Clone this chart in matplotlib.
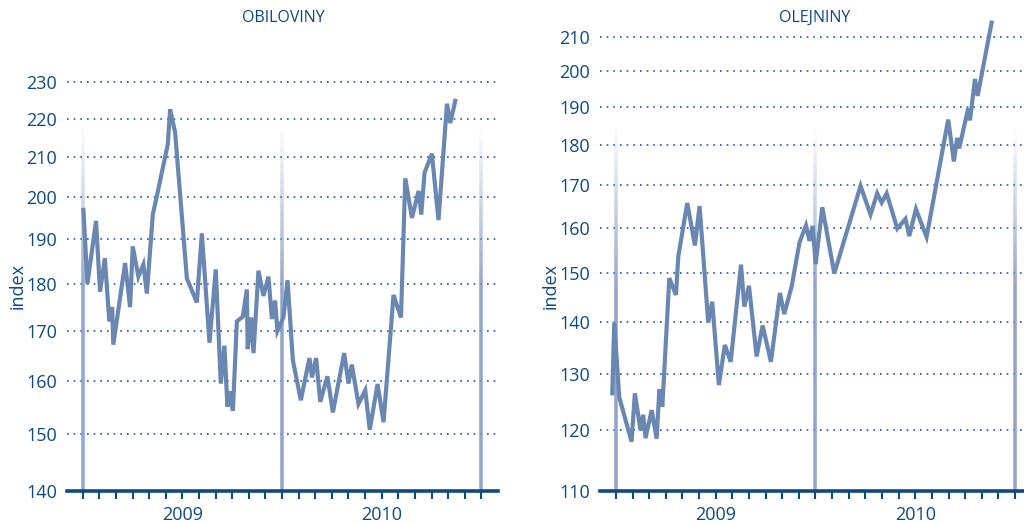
import numpy as np
import matplotlib
matplotlib.use('Agg')
import matplotlib.pyplot as plt
from matplotlib.collections import LineCollection
from matplotlib.ticker import FixedLocator, NullLocator, NullFormatter

# months since January 2009 (fractional, weekly-ish observations)
obil_months = [0.04, 0.28, 0.80, 1.04, 1.33, 1.60, 1.77, 1.84, 2.55, 2.85, 3.01, 3.35,
               3.65, 3.86, 4.22, 4.46, 5.12, 5.26, 5.56, 6.27, 6.87, 7.17, 7.63, 8.01,
               8.31, 8.53, 8.71, 8.87, 9.04, 9.28, 9.64, 9.88, 9.93, 10.14, 10.28, 10.58,
               10.88, 11.18, 11.39, 11.58, 11.72, 12.08, 12.33, 12.65, 13.13, 13.65, 13.80,
               14.05, 14.30, 14.73, 15.06, 15.74, 16.00, 16.20, 16.60, 17.01, 17.28, 17.75,
               18.11, 18.71, 19.16, 19.42, 19.82, 20.22, 20.38, 20.58, 21.02, 21.42, 21.93,
               22.13, 22.43]
obil_values = [196.9, 180.0, 194.3, 178.3, 185.7, 172.0, 175.0, 167.2, 184.6, 175.0, 188.4, 181.6,
               184.3, 177.9, 195.9, 200.2, 213.2, 222.5, 216.4, 181.2, 176.0, 191.4, 167.6, 183.2,
               159.5, 167.0, 155.1, 158.0, 154.3, 172.0, 173.0, 178.8, 166.3, 172.8, 165.5, 182.9,
               177.4, 181.6, 172.5, 176.4, 170.0, 172.8, 180.8, 164.1, 156.3, 164.5, 160.7,
               164.5, 156.0, 160.9, 154.0, 165.5, 159.5, 163.2, 155.6, 158.2, 150.8, 159.4,
               152.2, 177.6, 172.8, 204.6, 195.0, 201.5, 195.8, 206.0, 210.8, 194.5, 224.0,
               218.8, 224.8]

olej_months = [-0.22, -0.10, 0.20, 0.94, 1.14, 1.48, 1.64, 1.78, 2.15, 2.45, 2.61, 2.79,
               3.21, 3.61, 3.75, 4.29, 4.75, 5.03, 5.55, 5.79, 6.19, 6.55, 6.90, 7.52,
               7.72, 8.00, 8.46, 8.82, 9.32, 9.86, 10.12, 10.57, 11.04, 11.43, 11.64, 11.83,
               12.01, 12.41, 13.13, 14.71, 15.31, 15.71, 15.98, 16.28, 16.92, 17.41, 17.64,
               18.04, 18.68, 19.98, 20.32, 20.52, 20.64, 21.18, 21.29, 21.59, 21.75, 22.59]
olej_values = [126.4, 139.8, 125.7, 118.0, 126.4, 119.9, 122.6, 118.6, 123.4, 118.5, 127.1, 124.0,
               148.9, 145.4, 153.6, 165.7, 156.0, 165.0, 139.8, 144.0, 127.9, 135.4, 132.2, 151.8,
               143.0, 147.3, 133.2, 139.2, 132.2, 145.8, 141.5, 147.2, 156.7, 160.5, 157.0, 160.4,
               151.9, 164.7, 149.9, 169.8, 163.0, 168.0, 165.8, 168.0, 159.8, 162.0, 158.1,
               164.3, 157.9, 186.6, 175.8, 181.8, 179.1, 189.6, 186.4, 197.7, 193.0, 214.2]

obil_ticks = [140, 150, 160, 170, 180, 190, 200, 210, 220, 230]
olej_ticks = [110, 120, 130, 140, 150, 160, 170, 180, 190, 200, 210]
year_labels = ['2009', '2010']

TEXT = '#0e4a80'
LINE = '#6a87b2'
GRID = '#1d5a93'
YEARLINE = '#8298c0'

plt.rcParams['font.family'] = ['Open Sans', 'DejaVu Sans']

fig = plt.figure(figsize=(10.24, 5.24), dpi=100)


def year_line(ax, x, top_frac):
    # vertical year separator fading out towards the top
    n = 60
    ys = np.linspace(0, top_frac, n + 1)
    segs = [[(x, ys[i]), (x, ys[i + 1])] for i in range(n)]
    alphas = np.clip((top_frac - ys[:-1]) / (0.45 * top_frac), 0, 1) * 0.85
    cols = [matplotlib.colors.to_rgba(YEARLINE, a) for a in alphas]
    lc = LineCollection(segs, colors=cols, linewidths=2.6,
                        transform=ax.get_xaxis_transform(), zorder=1)
    ax.add_collection(lc)


def setup(ax, months, values, yticks, ylim, xlim, fade_top, height_px):
    ax.set_yscale('log')
    ax.set_ylim(*ylim)
    ax.set_xlim(*xlim)
    for yv in yticks[1:]:
        ax.axhline(yv, color=GRID, lw=1.2, ls=(0, (1, 3)), zorder=0)
    for x in (0, 12, 24):
        year_line(ax, x, fade_top)
    ax.plot(months, values, color=LINE, lw=3.0, solid_joinstyle='miter', zorder=3)

    ax.yaxis.set_major_locator(FixedLocator(yticks))
    ax.yaxis.set_minor_locator(NullLocator())
    ax.yaxis.set_minor_formatter(NullFormatter())
    ax.set_yticklabels([str(t) for t in yticks])
    ax.tick_params(axis='y', length=0, pad=7, labelsize=13, labelcolor=TEXT)

    ax.set_xticks(range(0, 25))
    ax.set_xticklabels([])
    ax.tick_params(axis='x', which='major', length=6, width=1.5, color=TEXT, direction='out')
    for xm, lab in zip([6, 18], year_labels):
        ax.text(xm, -24.5 / height_px, lab, transform=ax.get_xaxis_transform(),
                ha='center', va='center', fontsize=13, color=TEXT)

    for s in ('top', 'right', 'left'):
        ax.spines[s].set_visible(False)
    ax.spines['bottom'].set_color(TEXT)
    ax.spines['bottom'].set_linewidth(2.6)
    ax.spines['bottom'].set_zorder(4)


ax1 = fig.add_axes([0.0654, 0.063, 0.4209, 0.8145])
setup(ax1, obil_months, obil_values, obil_ticks, (140, 235), (-0.95, 25.0), 0.85, 426.8)

ax2 = fig.add_axes([0.5859, 0.063, 0.4216, 0.9174])
setup(ax2, olej_months, olej_values, olej_ticks, (110, 218), (-0.96, 25.0), 0.755, 480.7)

fig.text(283 / 1024, 1 - 18 / 524, 'OBILOVINY', ha='center', va='center', color=TEXT, fontsize=11.5)
fig.text(815 / 1024, 1 - 18 / 524, 'OLEJNINY', ha='center', va='center', color=TEXT, fontsize=11.5)
fig.text(18 / 1024, 1 - 286 / 524, 'index', rotation=90, ha='center', va='center', color=TEXT, fontsize=13)
fig.text(551 / 1024, 1 - 286 / 524, 'index', rotation=90, ha='center', va='center', color=TEXT, fontsize=13)

fig.savefig('out.png', dpi=100)
